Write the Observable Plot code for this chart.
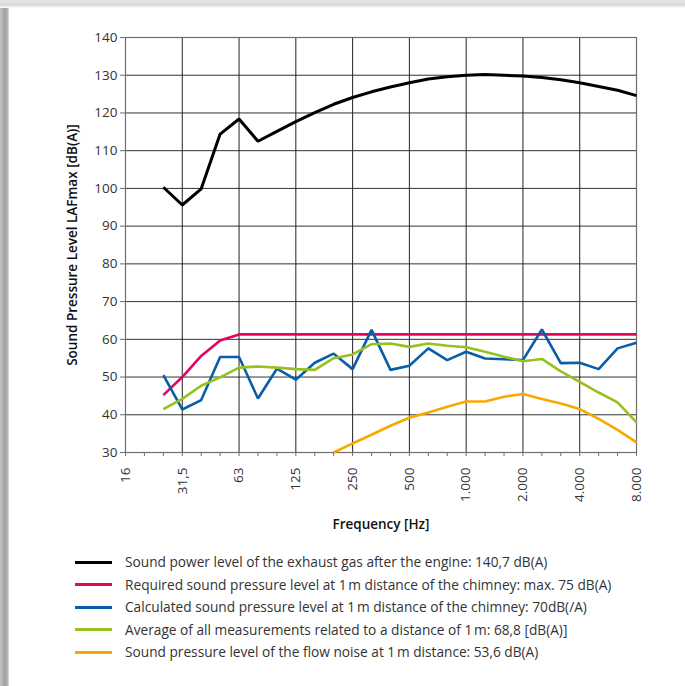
<!DOCTYPE html>
<html>
<head>
<meta charset="utf-8">
<script src="https://cdn.jsdelivr.net/npm/d3@7"></script>
<script src="https://cdn.jsdelivr.net/npm/@observablehq/plot@0.6"></script>
<style>
  body { margin: 0; background: #fff; }
  #page { position: relative; width: 685px; height: 686px; background: #fff; overflow: hidden; font-family: "Open Sans", sans-serif; }
  #shadowL { position: absolute; left: 0; top: 0; width: 10px; height: 686px;
    background: linear-gradient(to right, #c4c4c4 0px, #a0a0a0 5px, #b8b8b8 8px, #ffffff 9.5px); }
  #shadowT { position: absolute; left: 0; top: 0; width: 685px; height: 8px;
    background: linear-gradient(to bottom, #e6e6e6 0px, #d8d8d8 5px, #ffffff 8px); }
  #chart { position: absolute; left: 0; top: 0; }
  #legend { position: absolute; left: 0; top: 545px; width: 685px; height: 141px; }
  .row { position: absolute; left: 0; height: 20px; }
  .swatch { position: absolute; left: 75px; width: 37px; height: 3px; }
  .label { position: absolute; left: 125px; white-space: nowrap; font-size: 13.7px; color: #333; line-height: 20px; }
</style>
</head>
<body>
<div id="page">
  <div id="shadowL"></div>
  <div id="shadowT"></div>
  <div id="chart"></div>
  <div id="legend"></div>
</div>
<script>
// Third-octave band categories (x axis)
const bands = ["16","20","25","31,5","40","50","63","80","100","125","160","200","250","315","400","500","630","800","1.000","1.250","1.600","2.000","2.500","3.150","4.000","5.000","6.300","8.000"];
// Labelled octave ticks
const octaveLabels = ["16","31,5","63","125","250","500","1.000","2.000","4.000","8.000"];
// Bands for which values exist (25 Hz ... 8000 Hz)
const dataBands = ["25","31,5","40","50","63","80","100","125","160","200","250","315","400","500","630","800","1.000","1.250","1.600","2.000","2.500","3.150","4.000","5.000","6.300","8.000"];
// Y tick values
const yTicks = [30,40,50,60,70,80,90,100,110,120,130,140];

// Series values (dB)
const soundPower = [100.3,95.6,99.9,114.4,118.4,112.5,115.1,117.7,120.1,122.3,124.1,125.6,126.9,128.0,129.0,129.6,130.0,130.2,130.0,129.8,129.4,128.8,128.0,127.0,126.0,124.6];
const required   = [45.2,50.0,55.6,59.7,61.3,61.3,61.3,61.3,61.3,61.3,61.3,61.3,61.3,61.3,61.3,61.3,61.3,61.3,61.3,61.3,61.3,61.3,61.3,61.3,61.3,61.3];
const calculated = [50.5,41.4,43.9,55.3,55.3,44.3,52.2,49.3,53.8,56.2,52.1,62.5,51.9,53.0,57.6,54.5,56.7,54.9,54.7,54.5,62.6,53.7,53.8,52.1,57.6,59.1];
const average    = [41.5,44.2,47.7,49.9,52.5,52.8,52.5,52.1,51.9,55.0,56.0,58.7,58.9,58.0,58.9,58.3,57.9,56.7,55.4,54.2,54.8,51.5,48.7,45.9,43.3,38.0];
const flowNoise  = [null,null,null,null,null,null,null,null,null,30.0,32.4,34.7,37.1,39.2,40.6,42.1,43.5,43.5,44.8,45.5,44.2,43.0,41.5,38.9,36.0,32.7];

const seriesNames = [
  "Sound power level of the exhaust gas after the engine: 140,7 dB(A)",
  "Required sound pressure level at 1\u202Fm distance of the chimney: max. 75 dB(A)",
  "Calculated sound pressure level at 1\u202Fm distance of the chimney: 70dB(/A)",
  "Average of all measurements related to a distance of 1\u202Fm: 68,8 [dB(A)]",
  "Sound pressure level of the flow noise at 1\u202Fm distance: 53,6 dB(A)"
];
const seriesColors = ["#000000","#e2065e","#0a5ea8","#97c11f","#f8a900"];
const seriesValues = [soundPower, required, calculated, average, flowNoise];

const xLabel = "Frequency [Hz]";
const yLabel = "Sound Pressure Level LAFmax [dB(A)]";

const table = seriesValues.map((vals, s) =>
  dataBands.map((b, i) => ({band: b, value: vals[i], series: s})).filter(d => d.value != null)
);

const lineMarks = table.map((rows, s) =>
  Plot.line(rows, {x: "band", y: "value", stroke: seriesColors[s], strokeWidth: s === 0 ? 3 : 2.6, strokeLinejoin: "miter", strokeLinecap: "butt"})
);

const chart = Plot.plot({
  width: 685,
  height: 545,
  marginLeft: 125,
  marginRight: 49,
  marginTop: 37,
  marginBottom: 93,
  style: {fontFamily: "Open Sans, sans-serif", fontSize: "13px", color: "#333", background: "transparent"},
  x: {type: "point", domain: bands, padding: 0, round: false, label: null},
  y: {domain: [30, 140], label: null},
  marks: [
    Plot.ruleY(yTicks.slice(1), {stroke: "#333", strokeWidth: 1}),
    Plot.ruleX(octaveLabels.slice(1), {stroke: "#222", strokeWidth: 1}),
    Plot.frame({stroke: "#6e6e6e", strokeWidth: 1.2}),
    Plot.axisY(yTicks, {tickSize: 5, tickPadding: 3, fontSize: 13.5, stroke: "#6e6e6e", fill: "#333", label: null}),
    Plot.axisX(bands, {tickSize: 4, tickFormat: () => "", stroke: "#6e6e6e", label: null}),
    Plot.axisX(octaveLabels, {tickSize: 0, tickPadding: 15, tickRotate: -90, fontSize: 13.5, fill: "#333", label: null}),
    Plot.text([xLabel], {frameAnchor: "bottom", dy: 76, fontSize: 13.5, fontWeight: 600, fill: "#111"}),
    Plot.text([yLabel], {frameAnchor: "left", textAnchor: "middle", rotate: -90, dx: -53, fontSize: 13.5, fontWeight: 600, fill: "#111"}),
    ...lineMarks
  ]
});
document.getElementById("chart").appendChild(chart);

// Legend below the SVG
const legend = document.getElementById("legend");
const rowCenters = [17, 39.5, 62, 84.5, 107];
seriesNames.forEach((name, i) => {
  const row = document.createElement("div");
  row.className = "row";
  row.style.top = (rowCenters[i] - 10) + "px";
  const sw = document.createElement("div");
  sw.className = "swatch";
  sw.style.top = "8.5px";
  sw.style.background = seriesColors[i];
  const lab = document.createElement("div");
  lab.className = "label";
  lab.style.top = "0px";
  lab.textContent = name;
  row.appendChild(sw);
  row.appendChild(lab);
  legend.appendChild(row);
});
</script>
</body>
</html>
